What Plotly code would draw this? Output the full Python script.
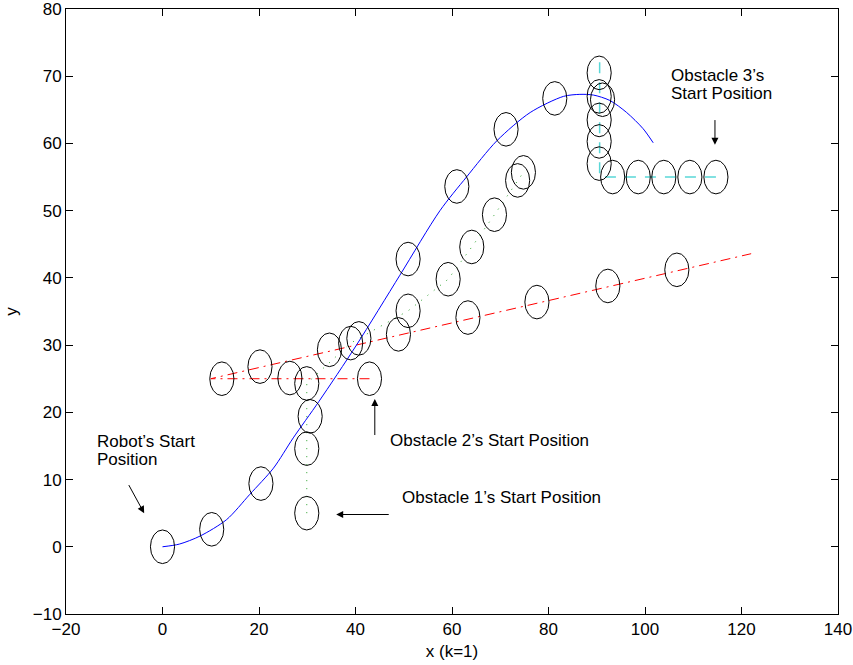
import plotly.graph_objects as go

# Robot trajectory (blue curve)
robot_path_x = [0, 3.5, 7.8, 13.3, 18.1, 23, 27.1, 32.4, 40.2, 49.2, 57.5, 63.0, 69.3, 76.2, 83.1, 86.5, 89.3, 92.7, 96.2, 99.6, 101.7]
robot_path_y = [0, 0.4, 1.6, 4.05, 7.8, 11.7, 16.2, 21.6, 30.0, 40.4, 50.0, 55.0, 60.4, 64.6, 67.0, 67.3, 67.2, 66.4, 64.6, 62.2, 60.1]
# Robot positions (circles)
robot_x = [0, 10.2, 20.4, 30.6, 40.7, 50.9, 61.0, 71.2, 81.3, 91.2]
robot_y = [0, 2.6, 9.4, 19.4, 31.0, 42.8, 53.6, 62.1, 66.7, 66.5]

# Obstacle 1 (green dotted)
obs1_x = [29.9, 29.9, 29.9, 39.0, 50.9, 59.2, 64.1, 68.8, 73.6, 74.8]
obs1_y = [5.0, 14.6, 24.3, 30.3, 35.1, 39.8, 44.6, 49.4, 54.5, 55.7]

# Obstacle 2 (red dash-dot)
obs2_x = [42.9, 26.4, 12.3, 20.2, 34.6, 48.9, 63.3, 77.6, 92.3, 106.6]
obs2_y = [25.0, 25.1, 25.0, 26.8, 29.3, 31.6, 34.1, 36.4, 38.8, 41.2]
obs2_path_x = [42.9, 10.0, 122.0]
obs2_path_y = [25.0, 25.0, 43.6]

# Obstacle 3 (cyan dashed)
obs3_x = [114.7, 109.3, 103.9, 98.6, 93.3, 90.5, 90.5, 90.5, 90.5, 90.5]
obs3_y = [55.0, 55.0, 55.0, 55.0, 55.0, 57.0, 60.3, 63.5, 67.0, 70.5]
obs3_path_x = [114.7, 90.6, 90.6]
obs3_path_y = [55.0, 55.0, 72.9]

radius = 2.5

x_ticks = [-20, 0, 20, 40, 60, 80, 100, 120, 140]
y_ticks = [-10, 0, 10, 20, 30, 40, 50, 60, 70, 80]

FONT = "Liberation Sans, Arial, Helvetica, sans-serif"
FS = 17

fig = go.Figure()
fig.add_trace(go.Scatter(x=obs1_x, y=obs1_y, mode="lines",
                         line=dict(color="rgb(40,160,40)", width=1, dash="1px,7px")))
fig.add_trace(go.Scatter(x=obs2_path_x, y=obs2_path_y, mode="lines",
                         line=dict(color="red", width=1, dash="10px,5px,2px,5px")))
fig.add_trace(go.Scatter(x=obs3_path_x, y=obs3_path_y, mode="lines",
                         line=dict(color="rgb(90,215,215)", width=1.5, dash="11px,9px")))
fig.add_trace(go.Scatter(x=robot_path_x, y=robot_path_y, mode="lines",
                         line=dict(color="blue", width=1, shape="spline", smoothing=0.8)))

shapes = []
for xs, ys in [(robot_x, robot_y), (obs1_x, obs1_y), (obs2_x, obs2_y), (obs3_x, obs3_y)]:
    for cx, cy in zip(xs, ys):
        shapes.append(dict(type="circle", xref="x", yref="y",
                           x0=cx - radius, x1=cx + radius, y0=cy - radius, y1=cy + radius,
                           line=dict(color="black", width=1), layer="above"))


def label(text, x, y):
    return dict(text=text, x=x, y=y, xanchor="left", yanchor="middle",
                showarrow=False, font=dict(size=FS))


def arrow(x, y, ax, ay):
    return dict(text="", x=x, y=y, ax=ax, ay=ay, axref="x", ayref="y",
                showarrow=True, arrowhead=2, arrowsize=1.4, arrowwidth=1, arrowcolor="black")


annotations = [
    label("Robot’s Start", -14.0, 15.7),
    label("Position", -14.0, 13.0),
    arrow(-3.8, 5.0, -7.15, 9.4),
    label("Obstacle 1’s Start Position", 49.2, 7.4),
    arrow(36.0, 4.8, 47.2, 4.8),
    label("Obstacle 2’s Start Position", 46.7, 15.8),
    arrow(44.0, 22.0, 44.0, 16.4),
    label("Obstacle 3’s", 105.0, 70.1),
    label("Start Position", 105.0, 67.4),
    arrow(114.5, 59.8, 114.5, 63.7),
]

axis_common = dict(showline=True, linecolor="black", linewidth=1, mirror="ticks",
                   ticks="inside", ticklen=7, tickcolor="black", showgrid=False,
                   zeroline=False, automargin=False, ticklabeloverflow="allow",
                   tickfont=dict(size=FS, color="black", family=FONT))

fig.update_layout(
    width=853, height=665,
    margin=dict(l=66, r=15, t=9, b=51),
    paper_bgcolor="white", plot_bgcolor="white",
    showlegend=False,
    font=dict(family=FONT, size=FS, color="black"),
    shapes=shapes,
    annotations=annotations,
    xaxis=dict(range=[-20, 140.0001], tickvals=x_ticks,
               title=dict(text="x (k=1)", font=dict(size=FS), standoff=6), **axis_common),
    yaxis=dict(range=[-10, 80.0001], tickvals=y_ticks,
               title=dict(text="y", font=dict(size=FS), standoff=10), **axis_common),
)

fig.write_html("out.html")
